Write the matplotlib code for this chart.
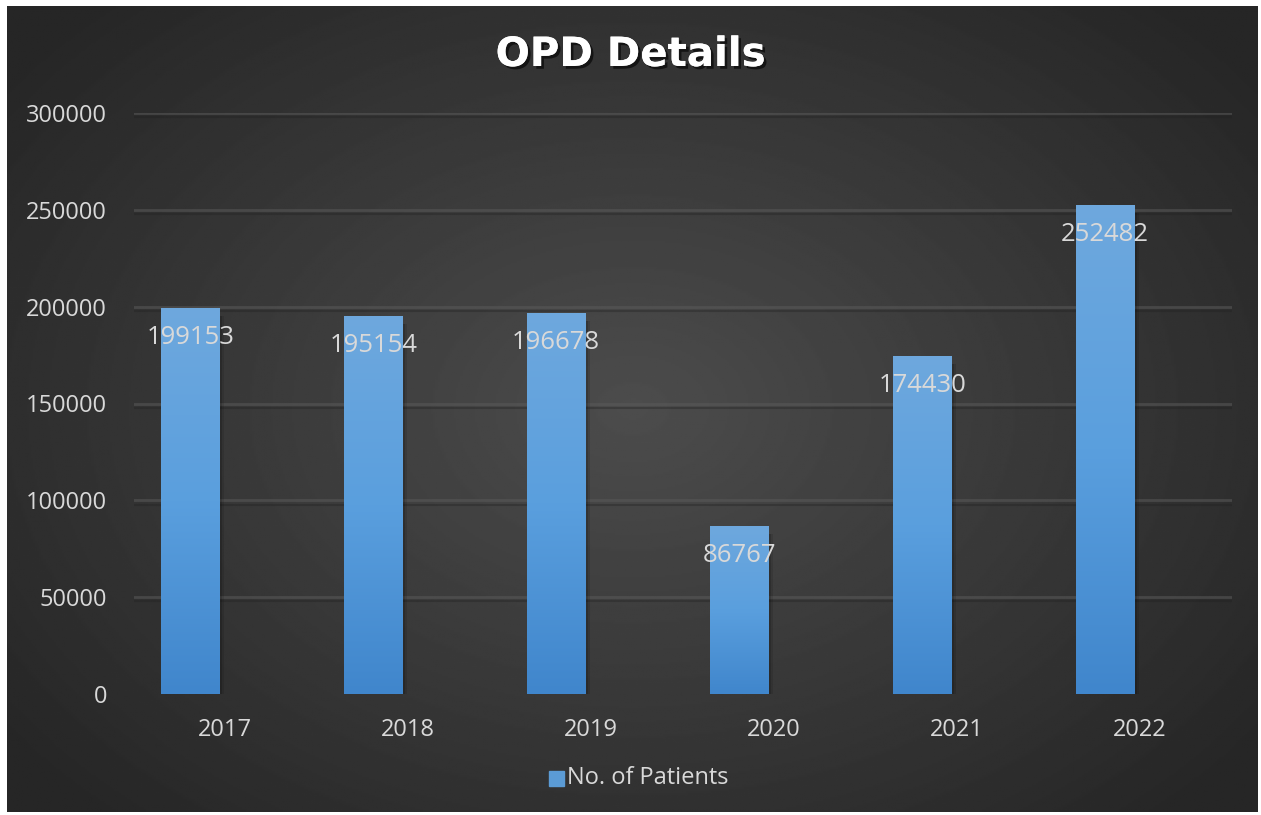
import numpy as np
import matplotlib.pyplot as plt
import matplotlib.patheffects as pe
from matplotlib.colors import LinearSegmentedColormap
from matplotlib.patches import Rectangle

years = ['2017', '2018', '2019', '2020', '2021', '2022']
patients = [199153, 195154, 196678, 86767, 174430, 252482]
yticks = [0, 50000, 100000, 150000, 200000, 250000, 300000]

W, H = 1261, 815
fig = plt.figure(figsize=(W / 100, H / 100), dpi=100, facecolor='white')
plt.rcParams['font.family'] = ['Open Sans', 'DejaVu Sans']

# background panel with radial gradient
bg = fig.add_axes([7 / W, 3 / H, 1251 / W, 806 / H])
bg.set_axis_off()
yy, xx = np.mgrid[-1:1:400j, -1:1:600j]
r = np.sqrt((xx / 1.0) ** 2 + (yy / 1.1) ** 2)
img = 0.30 - 0.15 * np.clip(r / 1.25, 0, 1)
bg.imshow(img, cmap='gray', vmin=0, vmax=1, aspect='auto', extent=[0, 1, 0, 1])
bg.set_xlim(0, 1)
bg.set_ylim(0, 1)

txt = '#d9d9d9'
ax = fig.add_axes([133.5 / W, 1 - 694 / H, 1098 / W, 581 / H])
ax.set_facecolor('none')
ax.set_xlim(-0.5, 5.5)
ax.set_ylim(0, 300000)
for s in ax.spines.values():
    s.set_visible(False)

for t in yticks[1:]:
    ax.axhline(t, color='#5a5a5a', lw=2, alpha=0.55, zorder=0)
    ax.axhline(t - 2200, color='#202020', lw=1.5, alpha=0.35, zorder=0)

x = np.arange(len(years))
off = -0.19
bw = 0.317
bars = ax.bar(x + off, patients, width=bw, color='#5b9bd5', zorder=2)

cmap = LinearSegmentedColormap.from_list('b', ['#4086cc', '#5a9fde', '#6ea8dd'])
grad = np.linspace(0, 1, 256).reshape(-1, 1)
for b, v in zip(bars, patients):
    x0 = b.get_x()
    # soft shadow
    for k, a in [(0.025, 0.10), (0.015, 0.15)]:
        ax.add_patch(Rectangle((x0 + k, -4000), bw, v, color='black', alpha=a, zorder=1, lw=0))
    im = ax.imshow(grad, cmap=cmap, aspect='auto', origin='lower',
                   extent=[x0, x0 + bw, 0, v], zorder=3)
    im.set_clip_path(b)
    ax.text(x0 + bw / 2, v - 15000, str(v), ha='center', va='center',
            color=txt, fontsize=18.5, zorder=4)
ax.set_xlim(-0.5, 5.5)
ax.set_ylim(0, 300000)

ax.set_xticks(x)
ax.set_xticklabels(years, color=txt, fontsize=17)
ax.set_yticks(yticks)
ax.set_yticklabels([str(t) for t in yticks], color=txt, fontsize=17)
ax.tick_params(length=0)
ax.tick_params(axis='x', pad=17)
ax.tick_params(axis='y', pad=19)

fig.text(0.5, 1 - 55 / H, 'OPD Details', ha='center', va='center', color='white',
         fontsize=29, fontweight='bold', family=['DejaVu Sans'],
         path_effects=[pe.withSimplePatchShadow(offset=(2, -2), shadow_rgbFace='black', alpha=0.6),
                       pe.Normal()])

fig.patches.append(Rectangle((549 / W, 1 - 786 / H), 15 / W, 15 / H, transform=fig.transFigure,
                             color='#5b9bd5', figure=fig))
fig.text(567 / W, 1 - 778 / H, 'No. of Patients', ha='left', va='center', color=txt, fontsize=17)

fig.savefig('out.png', dpi=100, facecolor='white')
